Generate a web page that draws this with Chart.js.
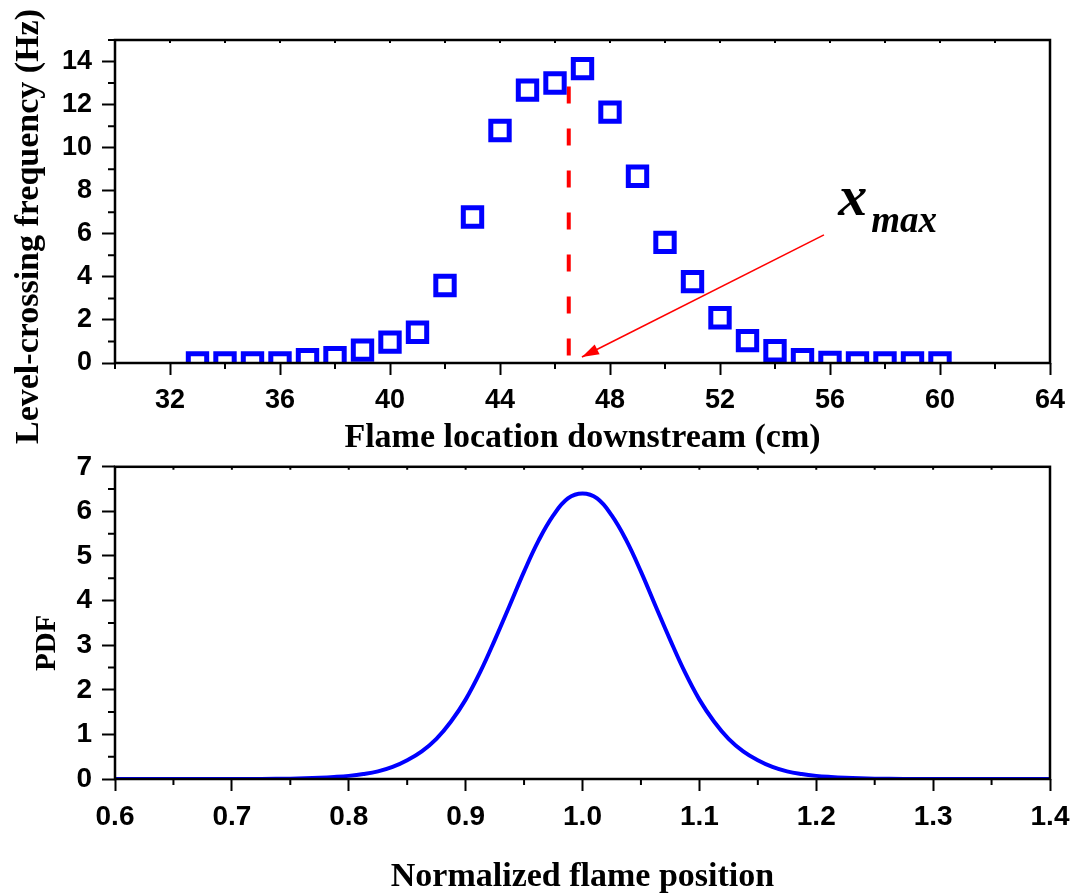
<!DOCTYPE html>
<html><head><meta charset="utf-8">
<script src="https://cdn.jsdelivr.net/npm/chart.js@4.4.1/dist/chart.umd.min.js"></script>
<style>
html,body{margin:0;padding:0;background:#fff;}
#wrap{position:relative;width:1082px;height:896px;overflow:hidden;}
canvas{position:absolute;left:0;}
#c1{top:0;} #c2{top:440px;}
</style></head><body>
<div id="wrap"><canvas id="c1" width="1082" height="460"></canvas><canvas id="c2" width="1082" height="459"></canvas></div>
<script>
// ---------- top panel data ----------
const locations = [33,34,35,36,37,38,39,40,41,42,43,44,45,46,47,48,49,50,51,52,53,54,55,56,57,58,59,60];
const crossingFreq = [0,0,0,0,0.15,0.25,0.6,0.97,1.43,3.6,6.78,10.8,12.67,13.0,13.67,11.65,8.67,5.6,3.78,2.1,1.04,0.57,0.15,0.03,0,0,0,0];
const xmaxLine = [{x:46.5,y:0.35},{x:46.5,y:12.9}];
const arrowLine = [{x:55.78,y:5.95},{x:46.98,y:0.28}];
const topXMajor = [32,36,40,44,48,52,56,60,64];
const topXMinor = [30,34,38,42,46,50,54,58,62];
const topYMajor = [0,2,4,6,8,10,12,14];
const topYMinor = [1,3,5,7,9,11,13,15];
// ---------- bottom panel data ----------
const pdfX = [0.6,0.65,0.7,0.725,0.75,0.7625,0.775,0.7875,0.8,0.8125,0.825,0.8375,0.85,0.8625,0.875,0.8875,0.9,0.9125,0.925,0.9375,0.95,0.9625,0.975,0.9875,1.0,
              1.0125,1.025,1.0375,1.05,1.0625,1.075,1.0875,1.1,1.1125,1.125,1.1375,1.15,1.1625,1.175,1.1875,1.2,1.2125,1.225,1.2375,1.25,1.275,1.3,1.35,1.4];
const pdfY = [0,0,0,0.002,0.008,0.015,0.027,0.045,0.07,0.11,0.17,0.27,0.42,0.62,0.9,1.29,1.78,2.4,3.12,3.88,4.65,5.35,5.91,6.29,6.4,
              6.29,5.91,5.35,4.65,3.88,3.12,2.4,1.78,1.29,0.9,0.62,0.42,0.27,0.17,0.11,0.07,0.045,0.027,0.015,0.008,0.002,0,0,0];
const botXMajor = [0.6,0.7,0.8,0.9,1.0,1.1,1.2,1.3,1.4];
const botXMinor = [0.65,0.75,0.85,0.95,1.05,1.15,1.25,1.35];
const botYMajor = [0,1,2,3,4,5,6,7];
const botYMinor = [0.5,1.5,2.5,3.5,4.5,5.5,6.5];

const SANS = "'Liberation Sans', Arial, sans-serif";
const SERIF = "'Liberation Serif', 'Times New Roman', serif";

const framePlugin = {
  id: 'frame',
  afterDatasetsDraw(chart, args, o) {
    const {ctx, chartArea: a, scales: {x, y}} = chart;
    ctx.save();
    ctx.strokeStyle = '#000';
    ctx.lineWidth = 2;
    ctx.beginPath();
    o.xMinor.forEach(v => { const p = x.getPixelForValue(v); ctx.moveTo(p, a.bottom); ctx.lineTo(p, a.bottom + 6); });
    o.yMinor.forEach(v => { const p = y.getPixelForValue(v); ctx.moveTo(a.left, p); ctx.lineTo(a.left - 7, p); });
    o.xMajor.concat(o.xMinor).forEach(v => { const p = x.getPixelForValue(v); ctx.moveTo(p, a.top); ctx.lineTo(p, a.top + 3); });
    ctx.stroke();
    ctx.lineWidth = 2.5;
    ctx.strokeRect(a.left, a.top, a.right - a.left, a.bottom - a.top);
    ctx.fillStyle = '#000';
    ctx.font = o.yTitleFont;
    ctx.textAlign = 'center';
    ctx.textBaseline = 'alphabetic';
    ctx.translate(o.yTitleBaseX, (a.top + a.bottom) / 2 + o.yTitleShift);
    ctx.rotate(-Math.PI / 2);
    ctx.fillText(o.yTitle, 0, 0);
    ctx.restore();
  }
};

const annotPlugin = {
  id: 'annot',
  afterDatasetsDraw(chart, args, o) {
    if (!o.enabled) return;
    const {ctx, scales: {x, y}} = chart;
    ctx.save();
    const x1 = x.getPixelForValue(arrowLine[0].x), y1 = y.getPixelForValue(arrowLine[0].y);
    const x2 = x.getPixelForValue(arrowLine[1].x), y2 = y.getPixelForValue(arrowLine[1].y);
    const ang = Math.atan2(y2 - y1, x2 - x1);
    const L = 17, W = 5.5;
    ctx.fillStyle = '#ff0000';
    ctx.beginPath();
    ctx.moveTo(x2, y2);
    ctx.lineTo(x2 - L * Math.cos(ang) + W * Math.sin(ang), y2 - L * Math.sin(ang) - W * Math.cos(ang));
    ctx.lineTo(x2 - L * Math.cos(ang) - W * Math.sin(ang), y2 - L * Math.sin(ang) + W * Math.cos(ang));
    ctx.closePath();
    ctx.fill();
    ctx.fillStyle = '#000';
    ctx.textAlign = 'left';
    ctx.textBaseline = 'alphabetic';
    ctx.font = "italic bold 58px " + SERIF;
    ctx.fillText('x', x.getPixelForValue(56.3), y.getPixelForValue(6.88));
    ctx.font = "italic bold 37px " + SERIF;
    ctx.fillText('max', x.getPixelForValue(57.5), y.getPixelForValue(6.09));
    ctx.restore();
  }
};

function axisX(min, max, major, fmt, title, tickSize, height) {
  return {
    type: 'linear', min, max,
    afterBuildTicks: s => { s.ticks = major.map(v => ({value: v})); },
    afterFit: s => { s.height = height; },
    ticks: { autoSkip: false, maxRotation: 0, color: '#000', padding: 9,
      font: {family: SANS, size: tickSize, weight: 'bold'}, callback: fmt },
    grid: { drawOnChartArea: false, drawTicks: true, tickLength: 12, tickWidth: 2, tickColor: '#000' },
    border: { display: false },
    title: { display: true, text: title, color: '#000', padding: {top: 0, bottom: 1},
      font: {family: SERIF, size: 34, weight: 'bold'} }
  };
}
function axisY(min, max, major, tickSize) {
  return {
    type: 'linear', min, max,
    afterBuildTicks: s => { s.ticks = major.map(v => ({value: v})); },
    afterFit: s => { s.width = 115; },
    ticks: { autoSkip: false, color: '#000', padding: 10,
      font: {family: SANS, size: tickSize, weight: 'bold'} },
    grid: { drawOnChartArea: false, drawTicks: true, tickLength: 13, tickWidth: 2, tickColor: '#000' },
    border: { display: false },
    title: { display: false }
  };
}

const common = {
  responsive: false, animation: false, devicePixelRatio: 1,
  plugins: { legend: {display: false}, tooltip: {enabled: false} }
};

new Chart(document.getElementById('c1'), {
  type: 'scatter',
  data: { datasets: [
    { data: locations.map((v, i) => ({x: v, y: crossingFreq[i]})), pointStyle: 'rect', pointRadius: 13,
      pointBorderWidth: 5, borderColor: '#0000ff', backgroundColor: 'rgba(0,0,0,0)', clip: 0 },
    { data: xmaxLine, showLine: true, borderColor: '#ff0000', borderWidth: 4, borderDash: [17, 25], pointRadius: 0 },
    { data: arrowLine, showLine: true, borderColor: '#ff0000', borderWidth: 1.6, pointRadius: 0 }
  ]},
  options: Object.assign({}, common, {
    layout: { autoPadding: false, padding: {top: 40, right: 32, left: 0, bottom: 0} },
    scales: {
      x: axisX(30, 64, topXMajor, v => String(v), 'Flame location downstream (cm)', 27, 97),
      y: axisY(0, 15, topYMajor, 27)
    },
    plugins: Object.assign({}, common.plugins, {
      frame: { xMajor: topXMajor, xMinor: topXMinor, yMinor: topYMinor,
        yTitle: 'Level-crossing frequency (Hz)', yTitleFont: 'bold 34px ' + SERIF, yTitleBaseX: 38, yTitleShift: 25 },
      annot: { enabled: true }
    })
  }),
  plugins: [framePlugin, annotPlugin]
});

new Chart(document.getElementById('c2'), {
  type: 'scatter',
  data: { datasets: [
    { data: pdfX.map((v, i) => ({x: v, y: pdfY[i]})), showLine: true, borderColor: '#0000ff', borderWidth: 4,
      pointRadius: 0, tension: 0.4 }
  ]},
  options: Object.assign({}, common, {
    layout: { autoPadding: false, padding: {top: 17, right: 32, left: 0, bottom: 0} },
    scales: {
      x: axisX(0.6, 1.4, botXMajor, v => Number(v).toFixed(1), 'Normalized flame position', 28, 120),
      y: axisY(0, 7, botYMajor, 28)
    },
    plugins: Object.assign({}, common.plugins, {
      frame: { xMajor: botXMajor, xMinor: botXMinor, yMinor: botYMinor,
        yTitle: 'PDF', yTitleFont: 'bold 29px ' + SERIF, yTitleBaseX: 55, yTitleShift: 20 },
      annot: { enabled: false }
    })
  }),
  plugins: [framePlugin, annotPlugin]
});
</script>
</body></html>
